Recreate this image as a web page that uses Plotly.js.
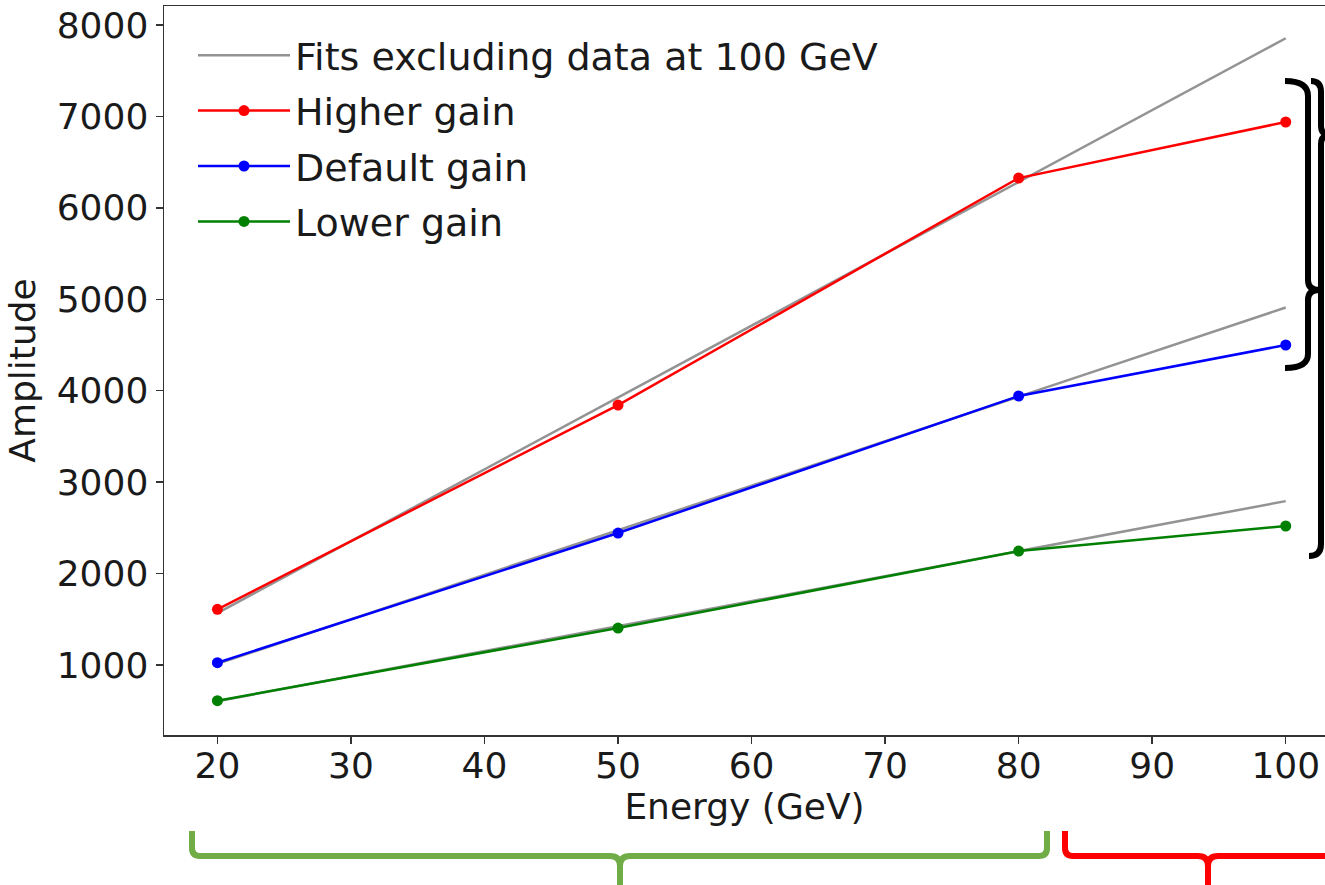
<!DOCTYPE html>
<html>
<head>
<meta charset="utf-8">
<script src="https://cdn.plot.ly/plotly-3.0.1.min.js"></script>
<style>
html,body{margin:0;padding:0;overflow:hidden;background:#fff;}
#chart{width:1325px;height:885px;}
</style>
</head>
<body>
<div id="chart"></div>
<script>
// ---- data ----
const energy = [20, 50, 80, 100];
const higherGain = [1609, 3843, 6326, 6939];
const defaultGain = [1025, 2443, 3942, 4500];
const lowerGain = [609, 1404, 2246, 2520];
// uncertainties (too small to be seen beneath the markers)
const higherErr = [30, 40, 50, 50];
const defaultErr = [20, 30, 40, 40];
const lowerErr = [15, 20, 30, 30];

// linear fits (excluding 100 GeV), drawn from 20 to 100 GeV
const fitEnergy = [20, 100];
const fitHigher = [1568, 7855];
const fitDefault = [1012, 4910];
const fitLower = [604, 2792];

const seriesNames = ["Higher gain", "Default gain", "Lower gain"];
const fitName = "Fits excluding data at 100 GeV";
const xTicks = [20, 30, 40, 50, 60, 70, 80, 90, 100];
const yTicks = [1000, 2000, 3000, 4000, 5000, 6000, 7000, 8000];

// ---- layout geometry ----
const W = 1325, H = 885;
const M = {l: 164, r: 0, t: 6, b: 150};
const PW = W - M.l - M.r, PH = H - M.t - M.b;
function P(x, y) { return ((x - M.l) / PW).toFixed(5) + ',' + ((H - M.b - y) / PH).toFixed(5); }

const FONT = 'DejaVu Sans, sans-serif';
const grey = 'rgba(128,128,128,0.85)';

function dataTrace(y, err, name, color) {
  return {x: energy, y: y, mode: 'lines+markers', name: name,
          error_y: {type: 'data', array: err, visible: true, color: color, thickness: 2.5, width: 0},
          line: {color: color, width: 2.5}, marker: {color: color, size: 11}};
}

const traces = [
  {x: fitEnergy, y: fitHigher, mode: 'lines', name: fitName, legendgroup: 'fit',
   line: {color: grey, width: 2.5}},
  {x: fitEnergy, y: fitDefault, mode: 'lines', name: fitName, legendgroup: 'fit', showlegend: false,
   line: {color: grey, width: 2.5}},
  {x: fitEnergy, y: fitLower, mode: 'lines', name: fitName, legendgroup: 'fit', showlegend: false,
   line: {color: grey, width: 2.5}},
  dataTrace(higherGain, higherErr, seriesNames[0], '#ff0000'),
  dataTrace(defaultGain, defaultErr, seriesNames[1], '#0000ff'),
  dataTrace(lowerGain, lowerErr, seriesNames[2], '#008000')
];

function brace(path, color) {
  return {type: 'path', xref: 'paper', yref: 'paper', path: path,
          line: {color: color, width: 6}, layer: 'above'};
}
const shapes = [
  // black brace (inner, around higher-gain region)
  brace('M' + P(1285, 81) + ' Q' + P(1308, 81) + ' ' + P(1308, 96) +
        ' L' + P(1308, 280) + ' Q' + P(1308, 290) + ' ' + P(1319, 290) +
        ' Q' + P(1308, 290) + ' ' + P(1308, 300) + ' L' + P(1308, 354) +
        ' Q' + P(1308, 368) + ' ' + P(1285, 368), '#000000'),
  // black brace (outer)
  brace('M' + P(1311, 81) + ' Q' + P(1321, 81) + ' ' + P(1321, 92) +
        ' L' + P(1321, 126) + ' Q' + P(1321, 135) + ' ' + P(1330, 135) +
        ' Q' + P(1321, 135) + ' ' + P(1321, 144) + ' L' + P(1321, 544) +
        ' Q' + P(1321, 556) + ' ' + P(1309, 556), '#000000'),
  // green brace below the x axis
  brace('M' + P(192, 831) + ' L' + P(192, 848) + ' Q' + P(192, 856) + ' ' + P(200, 856) +
        ' L' + P(610, 856) + ' Q' + P(620, 856) + ' ' + P(620, 866) + ' L' + P(620, 886) +
        ' M' + P(620, 866) + ' Q' + P(620, 856) + ' ' + P(630, 856) +
        ' L' + P(1039, 856) + ' Q' + P(1047, 856) + ' ' + P(1047, 848) + ' L' + P(1047, 831), '#70ad47'),
  // red brace below the x axis
  brace('M' + P(1065, 831) + ' L' + P(1065, 848) + ' Q' + P(1065, 856) + ' ' + P(1073, 856) +
        ' L' + P(1198, 856) + ' Q' + P(1208, 856) + ' ' + P(1208, 866) + ' L' + P(1208, 886) +
        ' M' + P(1208, 866) + ' Q' + P(1208, 856) + ' ' + P(1218, 856) +
        ' L' + P(1330, 856), '#ff0000')
];

const layout = {
  width: W, height: H,
  margin: M,
  paper_bgcolor: '#ffffff', plot_bgcolor: '#ffffff',
  font: {family: FONT, size: 36, color: '#000000'},
  showlegend: true,
  legend: {x: (193 - M.l) / PW, y: 1 - (24 - M.t) / PH, xanchor: 'left', yanchor: 'top',
           bgcolor: 'rgba(0,0,0,0)', borderwidth: 0, font: {family: FONT, size: 38, color: '#1a1a1a'},
           itemwidth: 92, tracegroupgap: 3},
  xaxis: {
    range: [16, 102.94], tickmode: 'array', tickvals: xTicks, ticktext: xTicks.map(String),
    ticks: 'outside', ticklen: 7, tickwidth: 1.5, tickcolor: '#333',
    showline: true, linecolor: '#333', linewidth: 1.5, mirror: true,
    showgrid: false, zeroline: false, ticklabelstandoff: -9,
    tickfont: {family: FONT, size: 36, color: '#1a1a1a'},
    title: {text: 'Energy (GeV)', font: {family: FONT, size: 36, color: '#1a1a1a'}, standoff: 2}
  },
  yaxis: {
    range: [234, 8208], tickmode: 'array', tickvals: yTicks, ticktext: yTicks.map(String),
    ticks: 'outside', ticklen: 7, tickwidth: 1.5, tickcolor: '#333',
    showline: true, linecolor: '#333', linewidth: 1.5, mirror: false,
    showgrid: false, zeroline: false,
    tickfont: {family: FONT, size: 36, color: '#1a1a1a'},
    title: {text: 'Amplitude', font: {family: FONT, size: 36, color: '#1a1a1a'}, standoff: 10}
  },
  shapes: shapes
};

Plotly.newPlot('chart', traces, layout, {displayModeBar: false, staticPlot: true});
</script>
</body>
</html>
